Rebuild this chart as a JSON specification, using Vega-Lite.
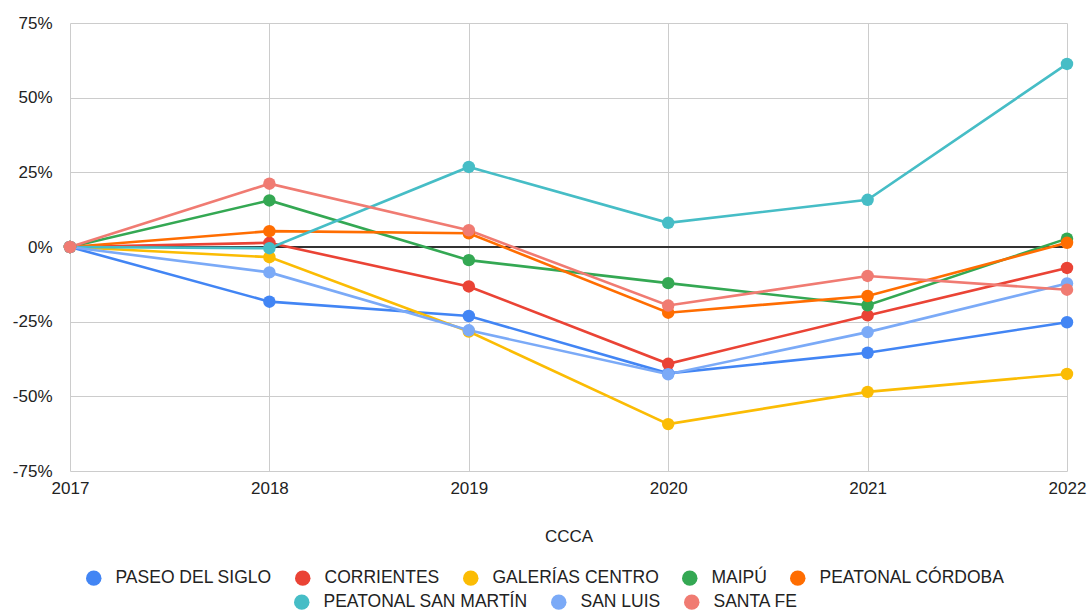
{
  "$schema": "https://vega.github.io/schema/vega-lite/v6.json",
  "autosize": {"type": "none"},
  "padding": {"left": 70, "top": 23, "right": 21, "bottom": 139},
  "width": 997,
  "height": 448,
  "background": "white",
  "data": {"values": [
    {"year": 2017, "series": "PASEO DEL SIGLO", "value": 0},
    {"year": 2018, "series": "PASEO DEL SIGLO", "value": -0.183},
    {"year": 2019, "series": "PASEO DEL SIGLO", "value": -0.231},
    {"year": 2020, "series": "PASEO DEL SIGLO", "value": -0.423},
    {"year": 2021, "series": "PASEO DEL SIGLO", "value": -0.354},
    {"year": 2022, "series": "PASEO DEL SIGLO", "value": -0.252},
    {"year": 2017, "series": "CORRIENTES", "value": 0},
    {"year": 2018, "series": "CORRIENTES", "value": 0.014},
    {"year": 2019, "series": "CORRIENTES", "value": -0.132},
    {"year": 2020, "series": "CORRIENTES", "value": -0.391},
    {"year": 2021, "series": "CORRIENTES", "value": -0.229},
    {"year": 2022, "series": "CORRIENTES", "value": -0.070},
    {"year": 2017, "series": "GALERÍAS CENTRO", "value": 0},
    {"year": 2018, "series": "GALERÍAS CENTRO", "value": -0.034},
    {"year": 2019, "series": "GALERÍAS CENTRO", "value": -0.283},
    {"year": 2020, "series": "GALERÍAS CENTRO", "value": -0.593},
    {"year": 2021, "series": "GALERÍAS CENTRO", "value": -0.485},
    {"year": 2022, "series": "GALERÍAS CENTRO", "value": -0.425},
    {"year": 2017, "series": "MAIPÚ", "value": 0},
    {"year": 2018, "series": "MAIPÚ", "value": 0.156},
    {"year": 2019, "series": "MAIPÚ", "value": -0.044},
    {"year": 2020, "series": "MAIPÚ", "value": -0.121},
    {"year": 2021, "series": "MAIPÚ", "value": -0.195},
    {"year": 2022, "series": "MAIPÚ", "value": 0.028},
    {"year": 2017, "series": "PEATONAL CÓRDOBA", "value": 0},
    {"year": 2018, "series": "PEATONAL CÓRDOBA", "value": 0.053},
    {"year": 2019, "series": "PEATONAL CÓRDOBA", "value": 0.046},
    {"year": 2020, "series": "PEATONAL CÓRDOBA", "value": -0.220},
    {"year": 2021, "series": "PEATONAL CÓRDOBA", "value": -0.164},
    {"year": 2022, "series": "PEATONAL CÓRDOBA", "value": 0.014},
    {"year": 2017, "series": "PEATONAL SAN MARTÍN", "value": 0},
    {"year": 2018, "series": "PEATONAL SAN MARTÍN", "value": -0.004},
    {"year": 2019, "series": "PEATONAL SAN MARTÍN", "value": 0.268},
    {"year": 2020, "series": "PEATONAL SAN MARTÍN", "value": 0.081},
    {"year": 2021, "series": "PEATONAL SAN MARTÍN", "value": 0.158},
    {"year": 2022, "series": "PEATONAL SAN MARTÍN", "value": 0.613},
    {"year": 2017, "series": "SAN LUIS", "value": 0},
    {"year": 2018, "series": "SAN LUIS", "value": -0.085},
    {"year": 2019, "series": "SAN LUIS", "value": -0.279},
    {"year": 2020, "series": "SAN LUIS", "value": -0.426},
    {"year": 2021, "series": "SAN LUIS", "value": -0.285},
    {"year": 2022, "series": "SAN LUIS", "value": -0.122},
    {"year": 2017, "series": "SANTA FE", "value": 0},
    {"year": 2018, "series": "SANTA FE", "value": 0.212},
    {"year": 2019, "series": "SANTA FE", "value": 0.056},
    {"year": 2020, "series": "SANTA FE", "value": -0.196},
    {"year": 2021, "series": "SANTA FE", "value": -0.097},
    {"year": 2022, "series": "SANTA FE", "value": -0.143}
  ]},
  "encoding": {
    "x": {
      "field": "year", "type": "quantitative",
      "scale": {"domain": [2017, 2022], "nice": false, "zero": false},
      "axis": {"values": [2017, 2018, 2019, 2020, 2021, 2022], "format": "d", "title": "CCCA", "grid": true, "ticks": false, "domain": false, "labelFlush": false, "labelPadding": 9, "titlePadding": 32}
    },
    "y": {
      "field": "value", "type": "quantitative",
      "scale": {"domain": [-0.75, 0.75], "nice": false},
      "axis": {"values": [-0.75, -0.5, -0.25, 0, 0.25, 0.5, 0.75], "format": ".0%", "labelExpr": "replace(datum.label, '−', '-')", "title": null, "grid": true, "ticks": false, "domain": false, "labelFlush": false, "labelPadding": 18}
    }
  },
  "layer": [
    {
      "mark": {"type": "rule", "color": "#333333", "strokeWidth": 1},
      "encoding": {"x": null, "y": {"datum": 0, "type": "quantitative"}}
    },
    {
      "mark": {"type": "line", "strokeWidth": 2.6},
      "encoding": {
        "color": {"field": "series", "type": "nominal", "legend": null,
          "scale": {"domain": ["PASEO DEL SIGLO", "CORRIENTES", "GALERÍAS CENTRO", "MAIPÚ", "PEATONAL CÓRDOBA", "PEATONAL SAN MARTÍN", "SAN LUIS", "SANTA FE"],
                    "range": ["#4285F4", "#EA4335", "#FBBC04", "#34A853", "#FF6D01", "#46BDC6", "#7BAAF7", "#F07B72"]}}
      }
    },
    {
      "transform": [{"filter": {"field": "series", "oneOf": ["PASEO DEL SIGLO", "CORRIENTES", "GALERÍAS CENTRO", "MAIPÚ", "PEATONAL CÓRDOBA"]}}],
      "mark": {"type": "point", "filled": true, "opacity": 1, "size": 155},
      "encoding": {
        "color": {"field": "series", "type": "nominal",
          "scale": {"domain": ["PASEO DEL SIGLO", "CORRIENTES", "GALERÍAS CENTRO", "MAIPÚ", "PEATONAL CÓRDOBA"],
                    "range": ["#4285F4", "#EA4335", "#FBBC04", "#34A853", "#FF6D01"]},
          "legend": {"title": null, "orient": "none", "legendX": 15, "legendY": 546, "direction": "horizontal", "symbolType": "circle"}}
      }
    },
    {
      "transform": [{"filter": {"field": "series", "oneOf": ["PEATONAL SAN MARTÍN", "SAN LUIS", "SANTA FE"]}}],
      "mark": {"type": "point", "filled": true, "opacity": 1, "size": 155},
      "encoding": {
        "color": {"field": "series", "type": "nominal",
          "scale": {"domain": ["PEATONAL SAN MARTÍN", "SAN LUIS", "SANTA FE"],
                    "range": ["#46BDC6", "#7BAAF7", "#F07B72"]},
          "legend": {"title": null, "orient": "none", "legendX": 223, "legendY": 570, "direction": "horizontal", "symbolType": "circle"}}
      }
    }
  ],
  "resolve": {"scale": {"color": "independent"}, "legend": {"color": "independent"}},
  "config": {
    "view": {"stroke": null},
    "font": "Liberation Sans",
    "axis": {"labelFont": "Liberation Sans", "labelFontSize": 17, "labelColor": "#222222", "titleFont": "Liberation Sans", "titleFontSize": 17, "titleFontWeight": "normal", "titleColor": "#222222", "gridColor": "#cccccc", "gridWidth": 1},
    "legend": {
      "labelFont": "Liberation Sans", "labelFontSize": 17.5, "labelColor": "#222222", "labelLimit": 400,
      "symbolSize": 240, "symbolStrokeWidth": 0, "labelOffset": 13, "columnPadding": 22, "padding": 0
    }
  }
}
